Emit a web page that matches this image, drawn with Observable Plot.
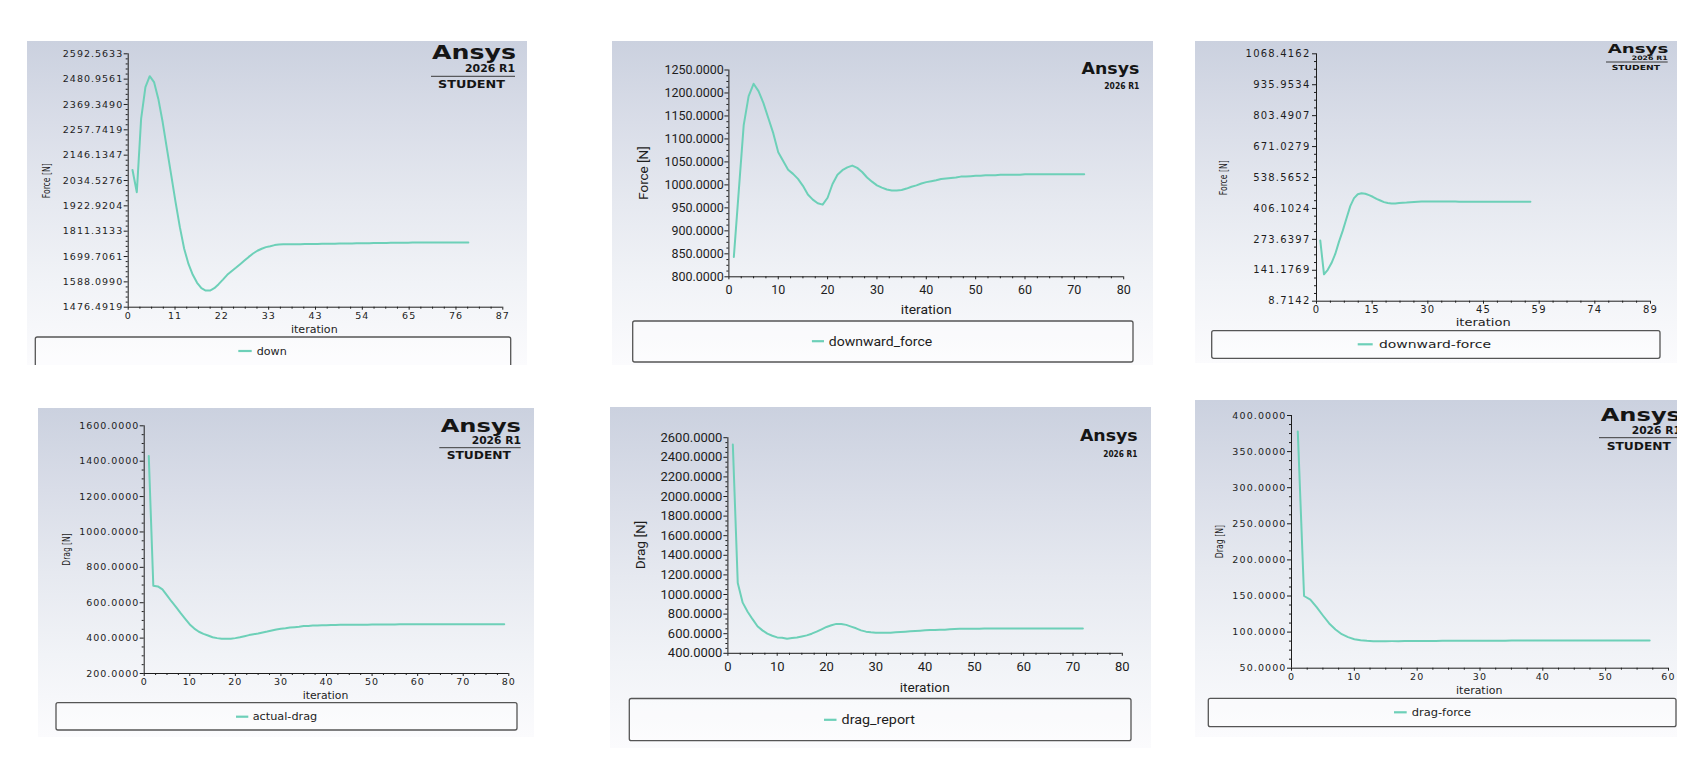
<!DOCTYPE html>
<html>
<head>
<meta charset="utf-8">
<title>Force and drag reports</title>
<script src="https://cdn.jsdelivr.net/npm/d3@7"></script>
<script src="https://cdn.jsdelivr.net/npm/@observablehq/plot@0.6"></script>
<style>
  html, body { margin: 0; padding: 0; background: #ffffff; }
  body { position: relative; width: 1696px; height: 768px; overflow: hidden; }
  .panel {
    position: absolute; overflow: hidden;
    background: linear-gradient(to bottom, #cbd1df 0%, #d9dde8 25%, #e6e9f0 50%, #f1f3f7 75%, #fbfbfd 100%);
  }
  .panel svg { position: absolute; left: 0; top: 0; }
</style>
</head>
<body>
<script>
// Report values per iteration (iterations start at 1)
const downValues = [
  2081, 1983, 2306, 2446, 2494, 2468, 2394, 2292, 2174, 2057,
  1939, 1829, 1734, 1667, 1619, 1584, 1560, 1550, 1550, 1560,
  1578, 1598, 1619, 1635, 1650, 1666, 1682, 1698, 1713, 1725,
  1734, 1741, 1745, 1750, 1753, 1754, 1754, 1754, 1754, 1754,
  1755, 1755, 1755, 1755, 1756, 1756, 1756, 1756, 1757, 1757,
  1757, 1757, 1758, 1758, 1758, 1758, 1759, 1759, 1759, 1759,
  1760, 1760, 1760, 1760, 1760, 1761, 1761, 1761, 1761, 1761,
  1761, 1762, 1762, 1762, 1762, 1762, 1762, 1762, 1762
];
const downwardForceValues = [
  843, 987, 1130, 1193, 1220, 1204, 1178, 1145, 1112, 1071,
  1052, 1033, 1024, 1013, 998, 979, 968, 960, 957, 972,
  1002, 1022, 1032, 1038, 1042, 1037, 1028, 1016, 1007, 999,
  994, 990, 988, 988, 989, 992, 996, 999, 1003, 1006,
  1008, 1010, 1013, 1014, 1015, 1016, 1018, 1018, 1019, 1020,
  1020, 1021, 1021, 1021, 1022, 1022, 1022, 1022, 1022, 1023,
  1023, 1023, 1023, 1023, 1023, 1023, 1023, 1023, 1023, 1023,
  1023, 1023
];
const downwardForce2Values = [
  269, 124, 143, 172, 211, 264, 311, 364, 416, 450,
  467, 471, 469, 463, 456, 447, 440, 433, 429, 427,
  427, 429, 430, 431, 433, 434, 435, 436, 436, 436,
  436, 436, 436, 436, 436, 436, 436, 435, 435, 435,
  435, 435, 435, 435, 435, 435, 435, 435, 435, 435,
  435, 435, 435, 435, 435, 435, 435
];
const actualDragValues = [
  1430, 696, 692, 675, 641, 607, 575, 541, 509, 477,
  454, 436, 424, 415, 405, 400, 396, 396, 396, 400,
  405, 411, 417, 422, 426, 432, 437, 443, 449, 453,
  456, 460, 462, 464, 468, 469, 471, 471, 473, 473,
  474, 474, 475, 475, 475, 476, 476, 476, 476, 477,
  477, 477, 477, 477, 477, 478, 478, 478, 478, 478,
  478, 478, 478, 478, 478, 478, 478, 478, 479, 479,
  479, 479, 479, 479, 479, 479, 479, 479, 479
];
const dragReportValues = [
  2531, 1117, 917, 824, 748, 676, 634, 600, 579, 562,
  559, 548, 555, 562, 572, 583, 600, 621, 645, 669,
  686, 700, 700, 690, 672, 655, 634, 621, 614, 610,
  610, 610, 610, 614, 617, 621, 624, 628, 631, 635,
  638, 638, 641, 641, 645, 648, 650, 650, 651, 651,
  651, 652, 652, 652, 652, 652, 652, 652, 652, 652,
  652, 652, 652, 652, 652, 652, 652, 652, 652, 652,
  652, 652
];
const dragForceValues = [
  378, 150, 145, 134.5, 123, 112, 103.6, 97.1, 93, 90.2,
  88.8, 87.9, 87.4, 87.4, 87.4, 87.5, 87.5, 87.6, 87.6, 87.7,
  87.7, 87.8, 87.8, 87.9, 87.9, 88.0, 88.0, 88.0, 88.0, 88.1,
  88.1, 88.1, 88.1, 88.1, 88.2, 88.2, 88.2, 88.2, 88.2, 88.2,
  88.2, 88.2, 88.3, 88.3, 88.3, 88.3, 88.3, 88.3, 88.3, 88.3,
  88.3, 88.3, 88.3, 88.3, 88.3, 88.3, 88.3
];

// Axis ticks and their labels
const downYTicks = [1476.4919, 1588.0990, 1699.7061, 1811.3133, 1922.9204, 2034.5276, 2146.1347, 2257.7419, 2369.3490, 2480.9561, 2592.5633];
const downXTicks = [0, 10.875, 21.75, 32.625, 43.5, 54.375, 65.25, 76.125, 87];
const downXLabels = ["0", "11", "22", "33", "43", "54", "65", "76", "87"];
const downwardForceYTicks = [800, 850, 900, 950, 1000, 1050, 1100, 1150, 1200, 1250];
const downwardForce2YTicks = [8.7142, 141.1769, 273.6397, 406.1024, 538.5652, 671.0279, 803.4907, 935.9534, 1068.4162];
const downwardForce2XTicks = [0, 14.8333, 29.6667, 44.5, 59.3333, 74.1667, 89];
const downwardForce2XLabels = ["0", "15", "30", "45", "59", "74", "89"];
const actualDragYTicks = [200, 400, 600, 800, 1000, 1200, 1400, 1600];
const dragReportYTicks = [400, 600, 800, 1000, 1200, 1400, 1600, 1800, 2000, 2200, 2400, 2600];
const dragForceYTicks = [50, 100, 150, 200, 250, 300, 350, 400];
const tens80 = [0, 10, 20, 30, 40, 50, 60, 70, 80];
const tens60 = [0, 10, 20, 30, 40, 50, 60];

const teal = "#6dd0b8";
const wide = "'DejaVu Sans', Verdana, sans-serif";
const narrow = "'Liberation Sans Narrow', 'DejaVu Sans Condensed', 'Liberation Sans', sans-serif";
const clean = "Roboto, 'Open Sans', sans-serif";
const logoFont = "'DejaVu Sans', sans-serif";

const panels = [
  {
    name: "down", values: downValues,
    box: [27, 41, 527, 365], frame: [127.7, 53.3, 502.3, 306.7],
    yTicks: downYTicks, yLabels: downYTicks.map(d => d.toFixed(4)),
    xTicks: downXTicks, xLabels: downXLabels, yMinor: 5, xMinor: 4,
    tick: {family: wide, size: 9.5, spacing: 1, yPad: 1, xPad: 2},
    legend: {box: [35.3, 337, 510.7, 380], swatch: [238.3, 251.7], cy: 351, x: 256.7, w: 30, size: 10, family: wide},
    xTitle: {text: "iteration", cx: 314.3, cy: 329.3, w: 46.7, size: 10, family: wide},
    yTitle: {text: "Force [N]", cx: 46, cy: 180.7, len: 35, size: 11, family: narrow},
    logo: {ansys: [432, 59.3, 84, 19.5], release: [465, 72.3, 50, 10], rule: [431, 515, 76.3], student: [438, 88.3, 67, 11]}
  },
  {
    name: "downward_force", values: downwardForceValues,
    box: [612, 41, 1153, 365], frame: [728.4, 69.5, 1123.2, 276.3],
    yTicks: downwardForceYTicks, yLabels: downwardForceYTicks.map(d => d.toFixed(4)),
    xTicks: tens80, xLabels: tens80.map(String), yMinor: 4, xMinor: 4,
    tick: {family: clean, size: 12.5, spacing: 0, yPad: 1, xPad: 5},
    legend: {box: [632.7, 321, 1133, 362], swatch: [811.9, 824], cy: 341.2, x: 828.8, w: 103.4, size: 13, family: clean},
    xTitle: {text: "iteration", cx: 926.2, cy: 309.5, w: 50.7, size: 13, family: clean},
    yTitle: {text: "Force [N]", cx: 643.2, cy: 173, len: 53.5, size: 13, family: clean},
    logo: {ansys: [1081.6, 74.3, 57.7, 15], release: [1104.3, 89.3, 35, 8]}
  },
  {
    name: "downward-force", values: downwardForce2Values,
    box: [1195, 41, 1677, 363], frame: [1316, 53.3, 1650, 300.7],
    yTicks: downwardForce2YTicks, yLabels: downwardForce2YTicks.map(d => d.toFixed(4)),
    xTicks: downwardForce2XTicks, xLabels: downwardForce2XLabels, yMinor: 4, xMinor: 4,
    tick: {family: wide, size: 10, spacing: 1.2, yPad: 2, xPad: 2},
    legend: {box: [1211.7, 330.7, 1660, 358.3], swatch: [1357.7, 1372.7], cy: 344.3, x: 1379, w: 112, size: 10, family: wide},
    xTitle: {text: "iteration", cx: 1483.2, cy: 322.3, w: 55, size: 10.5, family: wide},
    yTitle: {text: "Force [N]", cx: 1223.3, cy: 177.7, len: 35, size: 11, family: narrow},
    logo: {ansys: [1607.7, 52.5, 60.6, 11.5], release: [1631.7, 60.2, 36, 6], rule: [1606, 1667.7, 62], student: [1611.7, 69.7, 48.3, 7]}
  },
  {
    name: "actual-drag", values: actualDragValues,
    box: [38, 408, 534, 737], frame: [143.7, 425.3, 508.3, 673],
    yTicks: actualDragYTicks, yLabels: actualDragYTicks.map(d => d.toFixed(4)),
    xTicks: tens80, xLabels: tens80.map(String), yMinor: 4, xMinor: 4,
    tick: {family: wide, size: 9.5, spacing: 0.95, yPad: 1, xPad: 2},
    legend: {box: [56, 702.7, 517, 730], swatch: [236, 248.3], cy: 716.7, x: 252.7, w: 64.6, size: 10, family: wide},
    xTitle: {text: "iteration", cx: 325.5, cy: 695, w: 45.7, size: 10, family: wide},
    yTitle: {text: "Drag [N]", cx: 66.7, cy: 549.5, len: 32.3, size: 11, family: narrow},
    logo: {ansys: [440.7, 431.8, 80.3, 18.5], release: [471.7, 444.3, 49.3, 10], rule: [439.3, 520.7, 447.7], student: [446.7, 459.3, 64.3, 10.5]}
  },
  {
    name: "drag_report", values: dragReportValues,
    box: [610, 407, 1151, 748], frame: [727.4, 437.2, 1121.8, 652.8],
    yTicks: dragReportYTicks, yLabels: dragReportYTicks.map(d => d.toFixed(4)),
    xTicks: tens80, xLabels: tens80.map(String), yMinor: 4, xMinor: 4,
    tick: {family: clean, size: 13, spacing: 0, yPad: 1.5, xPad: 5},
    legend: {box: [629.3, 698.5, 1131, 740.7], swatch: [824, 836.5], cy: 719.8, x: 841.6, w: 73.4, size: 13, family: clean},
    xTitle: {text: "iteration", cx: 924.7, cy: 687.3, w: 50, size: 13, family: clean},
    yTitle: {text: "Drag [N]", cx: 640.5, cy: 545, len: 48.7, size: 13, family: clean},
    logo: {ansys: [1079.9, 440.7, 57.8, 15], release: [1103.3, 456.7, 34, 8]}
  },
  {
    name: "drag-force", values: dragForceValues,
    box: [1195, 400, 1677, 737], frame: [1291, 415, 1668, 667.7],
    yTicks: dragForceYTicks, yLabels: dragForceYTicks.map(d => d.toFixed(4)),
    xTicks: tens60, xLabels: tens60.map(String), yMinor: 4, xMinor: 4,
    tick: {family: wide, size: 9.5, spacing: 1.1, yPad: 1, xPad: 2},
    legend: {box: [1208.3, 698.3, 1676, 726.7], swatch: [1394, 1406.7], cy: 712.3, x: 1411.7, w: 59.3, size: 10, family: wide},
    xTitle: {text: "iteration", cx: 1479.2, cy: 690.3, w: 46.3, size: 10, family: wide},
    yTitle: {text: "Drag [N]", cx: 1219.3, cy: 541.5, len: 33.3, size: 11, family: narrow},
    logo: {ansys: [1600.7, 421.2, 80.3, 18.5], release: [1631.7, 434.3, 49.3, 10], rule: [1599, 1681, 437.7], student: [1606.7, 450, 64.3, 10.5]}
  }
];

// Minor tick positions between consecutive major ticks
function subdivide(ticks, n) {
  const out = [];
  for (let i = 0; i < ticks.length - 1; i++) {
    const a = ticks[i], b = ticks[i + 1];
    for (let k = 1; k < n; k++) out.push(a + (b - a) * k / n);
  }
  return out;
}

function drawPanel(p) {
  const [left, top, right, bottom] = p.box;
  const W = right - left, H = bottom - top;
  const div = document.createElement("div");
  div.className = "panel";
  Object.assign(div.style, {left: left + "px", top: top + "px", width: W + "px", height: H + "px"});
  document.body.appendChild(div);

  const series = p.values.map((v, i) => ({iteration: i + 1, value: v}));
  const yMin = p.yTicks[0], yMax = p.yTicks[p.yTicks.length - 1];
  const xMin = p.xTicks[0], xMax = p.xTicks[p.xTicks.length - 1];

  const chart = Plot.plot({
    width: W,
    height: H,
    marginLeft: p.frame[0] - left,
    marginRight: right - p.frame[2],
    marginTop: p.frame[1] - top,
    marginBottom: bottom - p.frame[3],
    x: {domain: [xMin, xMax]},
    y: {domain: [yMin, yMax]},
    style: {
      background: "transparent",
      fontFamily: p.tick.family,
      fontSize: p.tick.size + "px",
      letterSpacing: p.tick.spacing + "px",
      color: "#1d1d1d",
      overflow: "visible"
    },
    marks: [
      Plot.axisY(subdivide(p.yTicks, p.yMinor), {tickSize: 2, tickFormat: () => "", label: null}),
      Plot.axisX(subdivide(p.xTicks, p.xMinor), {tickSize: 2, tickFormat: () => "", label: null}),
      Plot.axisY(p.yTicks, {tickSize: 4, tickPadding: p.tick.yPad, tickFormat: d => p.yLabels[p.yTicks.indexOf(d)], label: null}),
      Plot.axisX(p.xTicks, {tickSize: 3, tickPadding: p.tick.xPad, tickFormat: d => p.xLabels[p.xTicks.indexOf(d)], label: null}),
      Plot.ruleX([xMin], {stroke: "#1d1d1d"}),
      Plot.ruleY([yMin], {stroke: "#1d1d1d"}),
      Plot.line(series, {x: "iteration", y: "value", stroke: teal, strokeWidth: 2})
    ]
  });
  div.appendChild(chart);

  // Titles, legend box and product badge, placed in page coordinates
  const svg = d3.create("svg").attr("width", W).attr("height", H);
  const g = svg.append("g").attr("transform", `translate(${-left},${-top})`);
  const stretch = (sel, w) => sel.attr("textLength", w).attr("lengthAdjust", "spacingAndGlyphs");

  const L = p.legend;
  g.append("rect")
    .attr("x", L.box[0]).attr("y", L.box[1])
    .attr("width", L.box[2] - L.box[0]).attr("height", L.box[3] - L.box[1])
    .attr("rx", 2).attr("fill", "rgba(255,255,255,0.35)")
    .attr("stroke", "#555").attr("stroke-width", 1.3);
  g.append("line")
    .attr("x1", L.swatch[0]).attr("x2", L.swatch[1]).attr("y1", L.cy).attr("y2", L.cy)
    .attr("stroke", teal).attr("stroke-width", 2.2);
  stretch(g.append("text")
    .attr("x", L.x).attr("y", L.cy).attr("dominant-baseline", "central")
    .attr("font-family", L.family).attr("font-size", L.size).attr("fill", "#1d1d1d")
    .text(p.name), L.w);

  const X = p.xTitle;
  stretch(g.append("text")
    .attr("x", X.cx - X.w / 2).attr("y", X.cy).attr("dominant-baseline", "central")
    .attr("font-family", X.family).attr("font-size", X.size).attr("fill", "#1d1d1d")
    .text(X.text), X.w);

  const Y = p.yTitle;
  stretch(g.append("text")
    .attr("transform", `translate(${Y.cx},${Y.cy}) rotate(-90)`)
    .attr("x", -Y.len / 2).attr("y", 0).attr("dominant-baseline", "central")
    .attr("font-family", Y.family).attr("font-size", Y.size).attr("fill", "#1d1d1d")
    .text(Y.text), Y.len);

  const B = p.logo;
  const badge = (spec, text, weight) => stretch(g.append("text")
    .attr("x", spec[0]).attr("y", spec[1])
    .attr("font-family", logoFont).attr("font-weight", weight).attr("font-size", spec[3])
    .attr("fill", "#151515").text(text), spec[2]);
  badge(B.ansys, "Ansys", 900);
  badge(B.release, "2026 R1", 700);
  if (B.rule) {
    g.append("line")
      .attr("x1", B.rule[0]).attr("x2", B.rule[1]).attr("y1", B.rule[2]).attr("y2", B.rule[2])
      .attr("stroke", "#3a3a3a").attr("stroke-width", 1);
  }
  if (B.student) badge(B.student, "STUDENT", 700);

  div.appendChild(svg.node());
}

panels.forEach(drawPanel);
</script>
</body>
</html>
